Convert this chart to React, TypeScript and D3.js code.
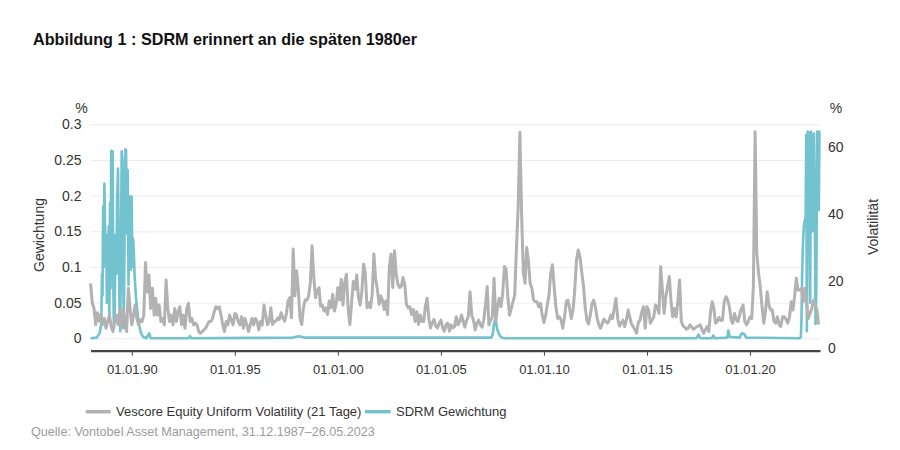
import { useEffect, useRef } from "react";
import * as d3 from "d3";

// Vescore Equity Uniform Volatility (21 Tage), in %, one value per month from Jan 1988 to May 2023
const volValues = [
  19.3, 13.3, 12, 7, 10.5, 8, 10, 7, 8.8, 5.9, 8, 9.8,
  6.4, 4.9, 7.9, 9.8, 7, 11.3, 5.9, 11.8, 7.9, 4.9, 17.8, 11.8,
  6.9, 9.8, 12.8, 8.8, 6.9, 8.3, 7.9, 9.8, 25.5, 16.7, 21.8, 11.8,
  17.8, 9.8, 14.8, 9.8, 12.8, 7.9, 8.8, 6.9, 20.3, 11.8, 7.9, 9.8,
  6.9, 11.8, 7.9, 10.8, 12.3, 6.9, 9.8, 5.9, 11.8, 13.3, 7.9, 8.8,
  6.9, 7.4, 6.9, 4.9, 4.4, 4.9, 5.4, 5.9, 6.9, 7.9, 7.9, 8.8,
  10.8, 12.3, 11.8, 12.3, 9.8, 6.9, 4.9, 7.9, 6.9, 9.8, 8.3, 6.9,
  10.3, 9.8, 7.9, 6.9, 9.3, 5.9, 8.8, 6.9, 4.9, 6.9, 8.8, 6.9,
  8.8, 7.9, 5.4, 7.9, 6.9, 12.8, 9.8, 6.9, 7.9, 12, 7, 8,
  8, 9, 8.5, 10.5, 9, 8, 10, 14, 15, 9, 29.5, 15.5,
  23, 17, 9, 7, 12, 14.3, 14.3, 15.5, 19.5, 30.5, 21, 15,
  17, 18, 12.5, 12.8, 11, 12, 10, 14, 12, 16, 11, 13,
  18, 14.3, 20.5, 12.8, 19.5, 22, 12, 7, 13.5, 19.8, 17.5, 21.8,
  15, 12.8, 16.8, 25, 22.5, 12, 13.5, 12, 16, 28, 20.5, 17.5,
  13, 15.5, 14.3, 11.5, 14, 10, 24, 28, 18, 29, 22, 19,
  18, 18.5, 21, 19, 13, 12, 12.3, 10, 11.5, 7.9, 10.8, 7,
  9.8, 7.9, 7.9, 12.5, 14.8, 8.8, 6, 7.5, 8.5, 6.5, 6, 7.4,
  8.3, 6, 5, 6.9, 7.4, 5, 6.9, 6, 6.4,
  9.3, 6.9, 7.9, 9.8, 7.9, 6.2, 8.2, 9.3, 16.8, 9.8, 8.3, 5.4,
  7.4, 8.3, 6.9, 6.2, 8.5, 12.8, 18.3, 6.9, 8.3, 9.3, 20.8, 7.9,
  12.3, 14.8, 12.3, 16.3, 24.3, 23.5, 15.3, 9.8, 11.8, 13.8, 15.8, 30,
  42, 64.3, 40, 22.3, 19.3, 30, 26, 19.3, 17.8, 14.3, 13.8, 13.8,
  12.3, 13.3, 9.8, 7.6, 9.8, 12.8, 15.8, 22.3, 24.8, 18.3, 12.3, 8.8,
  9.3, 8.3, 5.9, 9.3, 13.8, 14.3, 11.8, 8.8, 11.3, 17.3, 26.2, 29.2,
  27.2, 22.8, 18.8, 12.3, 8.3, 7.2, 9.8, 13.1, 14.3, 12.3, 8.8, 6.9,
  5.9, 7.4, 8.6, 7.9, 7.4, 8.2, 9.8, 8.8, 11.8, 14.8, 8.8, 6.6,
  7.4, 8.3, 6.4, 8.3, 11.3, 9.3, 7.2, 6.4, 5.4, 4.4, 7.6, 8.3,
  10.8, 12.3, 5.9, 12.3, 11.3, 7.4, 8.3, 9.3, 12.8, 12.3, 10.3, 24.3,
  17.3, 10.3, 15.3, 18.3, 21.3, 14.3, 9.3, 11.8, 9.3, 13.8, 20.3, 7.9,
  6.6, 6.2, 5.6, 5.9, 6.9, 6.4, 5.6, 5.9, 6.4, 6.6, 6.9, 5.6,
  4.4, 5.4, 6.4, 4.9, 10.8, 13.8, 11.8, 7.4, 7.9, 9.1, 8.2, 8.3,
  13.8, 15.3, 14.3, 12.3, 8.3, 7.4, 10.3, 8.5, 7.9, 9.8, 11.8, 12.8,
  7.9, 6.9, 7.9, 9.3, 8.8, 18.3, 64.5, 28.2, 22.3, 18.3, 12.3, 7.4,
  10.8, 16.8, 12.8, 11.3, 11.3, 7.9, 7.4, 9.3, 6.9, 6.4, 9.3, 9.3,
  8.5, 7.4, 9.3, 13.8, 11.3, 15.3, 20.8, 17.3, 17.3, 17.8, 13.8, 17.8,
  13.8, 8.8, 10.3, 11.8, 14.3, 12.8, 11.3, 7,
];

// SDRM Gewichtung, decimal years and weights in %
const sdrmYears = [
  1987.997, 1988.3, 1988.45, 1988.52, 1988.55, 1988.58, 1988.61, 1988.64, 1988.67, 1988.7,
  1988.73, 1988.76, 1988.79, 1988.82, 1988.85, 1988.88, 1988.91, 1988.94, 1988.97, 1989.0,
  1989.04, 1989.07, 1989.1, 1989.13, 1989.17, 1989.21, 1989.25, 1989.29, 1989.33, 1989.37,
  1989.4, 1989.44, 1989.48, 1989.51, 1989.55, 1989.58, 1989.61, 1989.65, 1989.69, 1989.72,
  1989.76, 1989.8, 1989.84, 1989.87, 1989.91, 1989.95, 1989.99, 1990.03, 1990.06, 1990.1,
  1990.14, 1990.2, 1990.28, 1990.36, 1990.45, 1990.55, 1990.7, 1990.85, 1990.92, 1992.75,
  1992.82, 1992.9, 1997.8, 1998.1, 1998.4, 2005.0, 2007.45, 2007.52, 2007.58, 2007.63,
  2007.68, 2007.74, 2007.85, 2007.95, 2008.1, 2017.4, 2017.5, 2017.6, 2018.15, 2018.22,
  2018.3, 2018.9, 2018.95, 2019.02, 2019.5, 2019.6, 2019.72, 2019.82, 2022.4, 2022.47,
  2022.5, 2022.53, 2022.57, 2022.62, 2022.66, 2022.7, 2022.73, 2022.76, 2022.8, 2022.84,
  2022.88, 2022.92, 2022.96, 2022.99, 2023.03, 2023.06, 2023.1, 2023.14, 2023.18, 2023.22,
  2023.26, 2023.3, 2023.34, 2023.37, 2023.4,
];
const sdrmValues = [
  0, 0.001, 0.008, 0.02, 0.09, 0.06, 0.185, 0.1, 0.217, 0.16,
  0.12, 0.145, 0.05, 0.1, 0.06, 0.157, 0.03, 0.19, 0.07, 0.263,
  0.2, 0.262, 0.08, 0.014, 0.04, 0.145, 0.09, 0.2, 0.238, 0.12,
  0.05, 0.01, 0.15, 0.262, 0.25, 0.1, 0.014, 0.15, 0.265, 0.264,
  0.147, 0.236, 0.075, 0.199, 0.17, 0.096, 0.199, 0.1, 0.14, 0.121,
  0.086, 0.058, 0.035, 0.018, 0.007, 0.002, 0, 0.007, 0, 0,
  0.003, 0, 0.001, 0.003, 0.001, 0.001, 0.001, 0.006, 0.02, 0.027,
  0.022, 0.012, 0.004, 0.001, 0, 0, 0.005, 0, 0, 0.004,
  0, 0.001, 0.011, 0.002, 0.001, 0.007, 0.006, 0.001, 0, 0.002,
  0.03, 0.09, 0.133, 0.16, 0.165, 0.17, 0.285, 0.01, 0.29, 0.288,
  0.2, 0.05, 0.29, 0.28, 0.15, 0.19, 0.287, 0.2, 0.02, 0.07,
  0.29, 0.27, 0.18, 0.29, 0.29,
];

const leftTicks = [0, 0.05, 0.1, 0.15, 0.2, 0.25, 0.3];
const rightTicks = [0, 20, 40, 60];
const xTickYears = [1990, 1995, 2000, 2005, 2010, 2015, 2020];

const title = "Abbildung 1 : SDRM erinnert an die späten 1980er";
const volLabel = "Vescore Equity Uniform Volatility (21 Tage)";
const sdrmLabel = "SDRM Gewichtung";
const source = "Quelle: Vontobel Asset Management, 31.12.1987–26.05.2023";

const GREY = "#b2b2b2";
const TEAL = "#72c2d0";
const FONT = "'Liberation Sans', Arial, sans-serif";

function yearToDate(y: number) {
  const yr = Math.floor(y);
  const a = new Date(yr, 0, 1).getTime();
  const b = new Date(yr + 1, 0, 1).getTime();
  return new Date(a + (y - yr) * (b - a));
}

type Pt = { date: Date; v: number };

function drawChart(svgEl: SVGSVGElement) {
  const svg = d3.select(svgEl);
  svg.selectAll("*").remove();

  const left = 90.5;
  const right = 820;
  const axisY = 350.7;

  const x = d3
    .scaleTime()
    .domain([new Date(1987, 11, 31), new Date(2023, 4, 26)])
    .range([left, right]);
  const yLeft = d3.scaleLinear().domain([0, 0.3]).range([338.3, 124.3]);
  const yRight = d3.scaleLinear().domain([0, 65]).range([348, 130]);

  // gridlines
  svg
    .append("g")
    .attr("transform", `translate(${left},0)`)
    .call(d3.axisLeft(yLeft).tickValues(leftTicks).tickSize(-(right - left)).tickFormat(() => ""))
    .call((g) => g.select(".domain").remove())
    .call((g) => g.selectAll("line").attr("stroke", "#ececec").attr("stroke-width", 1));

  // left axis labels
  svg
    .append("g")
    .attr("transform", `translate(${left},0)`)
    .call(d3.axisLeft(yLeft).tickValues(leftTicks).tickSize(0).tickPadding(9).tickFormat((d) => String(d)))
    .call((g) => g.select(".domain").remove())
    .call((g) =>
      g.selectAll("text").attr("font-family", FONT).attr("font-size", 14).attr("fill", "#333"),
    );

  // right axis labels
  svg
    .append("g")
    .attr("transform", `translate(${right},0)`)
    .call(d3.axisRight(yRight).tickValues(rightTicks).tickSize(0).tickPadding(8))
    .call((g) => g.select(".domain").remove())
    .call((g) =>
      g.selectAll("text").attr("font-family", FONT).attr("font-size", 14).attr("fill", "#333"),
    );

  // lines
  const volData: Pt[] = volValues.map((v, i) => ({ date: new Date(1988, i, 1), v }));
  const sdrmData: Pt[] = sdrmValues.map((v, i) => ({ date: yearToDate(sdrmYears[i]), v }));

  svg
    .append("path")
    .datum(sdrmData)
    .attr("fill", "none")
    .attr("stroke", TEAL)
    .attr("stroke-width", 2.6)
    .attr("stroke-linejoin", "round")
    .attr(
      "d",
      d3
        .line<Pt>()
        .x((d) => x(d.date))
        .y((d) => yLeft(d.v)),
    );

  svg
    .append("path")
    .datum(volData)
    .attr("fill", "none")
    .attr("stroke", GREY)
    .attr("stroke-width", 3)
    .attr("stroke-linejoin", "round")
    .attr(
      "d",
      d3
        .line<Pt>()
        .x((d) => x(d.date))
        .y((d) => yRight(d.v)),
    );

  // x axis
  svg
    .append("g")
    .attr("transform", `translate(0,${axisY})`)
    .call(
      d3
        .axisBottom(x)
        .tickValues(xTickYears.map((y) => new Date(y, 0, 1)))
        .tickSize(5)
        .tickPadding(9)
        .tickSizeOuter(0)
        .tickFormat((d) => d3.timeFormat("%d.%m.%y")(d as Date)),
    )
    .call((g) => g.select(".domain").attr("stroke", "#444").attr("stroke-width", 2.2))
    .call((g) => g.selectAll(".tick line").attr("stroke", "#444"))
    .call((g) =>
      g.selectAll("text").attr("font-family", FONT).attr("font-size", 13).attr("fill", "#333"),
    );

  const text = (tx: number, ty: number, s: string, size: number, fill: string) =>
    svg
      .append("text")
      .attr("x", tx)
      .attr("y", ty)
      .attr("font-family", FONT)
      .attr("font-size", size)
      .attr("fill", fill)
      .text(s);

  text(33, 45, title, 16.2, "#111").attr("font-weight", "bold");
  text(81.5, 113, "%", 14, "#333").attr("text-anchor", "middle");
  text(836, 113, "%", 14, "#333").attr("text-anchor", "middle");

  svg
    .append("text")
    .attr("transform", "translate(39,235) rotate(-90)")
    .attr("text-anchor", "middle")
    .attr("dominant-baseline", "central")
    .attr("font-family", FONT)
    .attr("font-size", 14)
    .attr("fill", "#333")
    .text("Gewichtung");
  svg
    .append("text")
    .attr("transform", "translate(872.5,227) rotate(-90)")
    .attr("text-anchor", "middle")
    .attr("dominant-baseline", "central")
    .attr("font-family", FONT)
    .attr("font-size", 14)
    .attr("fill", "#333")
    .text("Volatilität");

  // legend
  const legY = 411.7;
  svg.append("line").attr("x1", 85.7).attr("x2", 110.7).attr("y1", legY).attr("y2", legY)
    .attr("stroke", GREY).attr("stroke-width", 3.5);
  text(116, legY + 4.6, volLabel, 13, "#333");
  svg.append("line").attr("x1", 365).attr("x2", 390.7).attr("y1", legY).attr("y2", legY)
    .attr("stroke", TEAL).attr("stroke-width", 3.5);
  text(396, legY + 4.6, sdrmLabel, 13, "#333");

  text(31, 436.3, source, 12.6, "#9c9c9c");
}

export default function App() {
  const svgRef = useRef<SVGSVGElement>(null);
  useEffect(() => {
    if (svgRef.current) drawChart(svgRef.current);
  }, []);
  return (
    <div style={{ position: "absolute", left: 0, top: 0, width: 900, height: 450, background: "#fff" }}>
      <svg ref={svgRef} width={900} height={450} style={{ display: "block" }} />
    </div>
  );
}
